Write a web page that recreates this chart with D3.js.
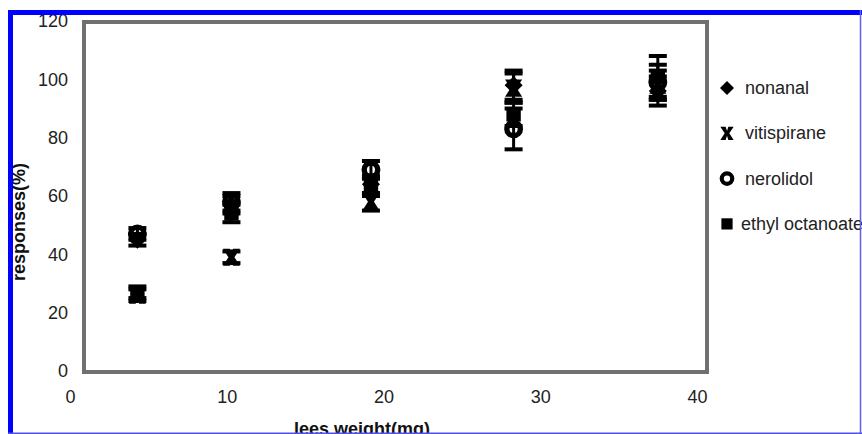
<!DOCTYPE html>
<html>
<head>
<meta charset="utf-8">
<script src="https://cdn.jsdelivr.net/npm/d3@7"></script>
<style>
  body { margin: 0; background: #fff; }
  svg { display: block; font-family: "Liberation Sans", Arial, sans-serif; }
</style>
</head>
<body>
<div id="chart"></div>
<script>
// data
const leesWeight = [4.3, 10.3, 19.2, 28.3, 37.5];
const seriesNames = ['nonanal', 'vitispirane', 'nerolidol', 'ethyl octanoate'];
const nonanal = [45, 57, 64, 98, 96];
const vitispirane = [26, 39, 58, 97, 98];
const nerolidol = [47, 58, 69, 83, 99];
const ethylOctanoate = [27, 54, 63, 88, 101];
const nonanalErr = [2, 3, 3, 5, 5];
const vitispiraneErr = [2, 2, 3, 5, 5];
const nerolidolErr = [2, 3, 3, 7, 6];
const ethylOctanoateErr = [2, 3, 3, 4, 7];
const xTicks = [0, 10, 20, 30, 40];
const yTicks = [0, 20, 40, 60, 80, 100, 120];

const width = 862;
const height = 434;

const series = [
  {name: seriesNames[0], values: nonanal, err: nonanalErr, shape: 'diamond'},
  {name: seriesNames[1], values: vitispirane, err: vitispiraneErr, shape: 'bowtie'},
  {name: seriesNames[2], values: nerolidol, err: nerolidolErr, shape: 'ring'},
  {name: seriesNames[3], values: ethylOctanoate, err: ethylOctanoateErr, shape: 'square'}
];

const x = d3.scaleLinear().domain([0, 40]).range([70, 697]);
const y = d3.scaleLinear().domain([0, 120]).range([371, 21]);

const svg = d3.select('#chart').append('svg')
  .attr('width', width)
  .attr('height', height);

// plot frame (sits a little right of the x tick labels, as in the original)
svg.append('rect')
  .attr('x', 84).attr('y', 22)
  .attr('width', 623).attr('height', 350)
  .attr('fill', '#fff')
  .attr('stroke', '#707070')
  .attr('stroke-width', 4);

// y tick labels
const yAxis = svg.append('g')
  .attr('transform', 'translate(68,0)')
  .call(d3.axisLeft(y).tickValues(yTicks).tickSize(0).tickPadding(0));
yAxis.select('.domain').remove();
yAxis.selectAll('text')
  .attr('font-family', '"Liberation Sans", Arial, sans-serif')
  .attr('font-size', 18)
  .attr('fill', '#222');

// x tick labels
const xAxis = svg.append('g')
  .attr('transform', 'translate(0,390)')
  .call(d3.axisBottom(x).tickValues(xTicks).tickSize(0).tickPadding(0));
xAxis.select('.domain').remove();
xAxis.selectAll('text')
  .attr('font-family', '"Liberation Sans", Arial, sans-serif')
  .attr('font-size', 18)
  .attr('fill', '#222');

// marker drawing
function drawMarker(g, shape, s) {
  if (shape === 'diamond') {
    g.append('path')
      .attr('d', `M0,${-s}L${s},0L0,${s}L${-s},0Z`)
      .attr('fill', '#000');
  } else if (shape === 'bowtie') {
    const a = s * 0.95;
    g.append('path')
      .attr('d', `M${-a},${-a}L${-a * 0.2},${-a}L0,${-a * 0.35}L${a * 0.2},${-a}L${a},${-a}` +
        `L${a * 0.35},0L${a},${a}L${a * 0.2},${a}L0,${a * 0.35}L${-a * 0.2},${a}L${-a},${a}L${-a * 0.35},0Z`)
      .attr('fill', '#000');
  } else if (shape === 'ring') {
    g.append('circle').attr('r', s * 0.75)
      .attr('fill', 'none').attr('stroke', '#000').attr('stroke-width', s * 0.6);
  } else {
    g.append('rect')
      .attr('x', -s * 0.8).attr('y', -s * 0.8)
      .attr('width', s * 1.6).attr('height', s * 1.6)
      .attr('fill', '#000');
  }
}

// points with error bars
series.forEach(sr => {
  const g = svg.append('g').attr('class', 'series');
  sr.values.forEach((v, i) => {
    const cx = x(leesWeight[i]);
    const lo = y(v - sr.err[i]);
    const hi = y(v + sr.err[i]);
    g.append('line')
      .attr('x1', cx).attr('x2', cx)
      .attr('y1', lo).attr('y2', hi)
      .attr('stroke', '#000').attr('stroke-width', 3);
    [lo, hi].forEach(yy => {
      g.append('line')
        .attr('x1', cx - 9).attr('x2', cx + 9)
        .attr('y1', yy).attr('y2', yy)
        .attr('stroke', '#000').attr('stroke-width', 4);
    });
    const m = g.append('g').attr('transform', `translate(${cx},${y(v)})`);
    drawMarker(m, sr.shape, 9);
  });
});

// legend
const legend = svg.append('g').attr('transform', 'translate(727,88)');
series.forEach((sr, i) => {
  const row = legend.append('g').attr('transform', `translate(0,${i * 45.3})`);
  drawMarker(row, sr.shape, 7);
  row.append('text')
    .attr('x', i === 3 ? 14 : 18).attr('y', 6)
    .attr('font-size', 18)
    .attr('fill', '#222')
    .text(sr.name);
});

// axis titles
svg.append('text')
  .attr('transform', 'translate(25,222) rotate(-90)')
  .attr('text-anchor', 'middle')
  .attr('font-size', 18)
  .attr('font-weight', 'bold')
  .attr('fill', '#111')
  .text('responses(%)');

svg.append('text')
  .attr('x', 362).attr('y', 435)
  .attr('text-anchor', 'middle')
  .attr('font-size', 18)
  .attr('font-weight', 'bold')
  .attr('fill', '#111')
  .text('lees weight(mg)');

// blue outer border (cropped figure frame)
svg.append('rect').attr('x', 0).attr('y', 0).attr('width', width).attr('height', 10).attr('fill', '#fff');
svg.append('line')
  .attr('x1', 8).attr('x2', width).attr('y1', 12.5).attr('y2', 12.5)
  .attr('stroke', '#0000ff').attr('stroke-width', 5);
svg.append('line')
  .attr('x1', 10.5).attr('x2', 10.5).attr('y1', 10).attr('y2', height)
  .attr('stroke', '#0000ff').attr('stroke-width', 5);
svg.append('line')
  .attr('x1', 860.5).attr('x2', 860.5).attr('y1', 10).attr('y2', height)
  .attr('stroke', '#6060f0').attr('stroke-width', 1.5);
svg.append('line')
  .attr('x1', 8).attr('x2', width).attr('y1', 433.3).attr('y2', 433.3)
  .attr('stroke', '#5050e8').attr('stroke-width', 1.5);
</script>
</body>
</html>
